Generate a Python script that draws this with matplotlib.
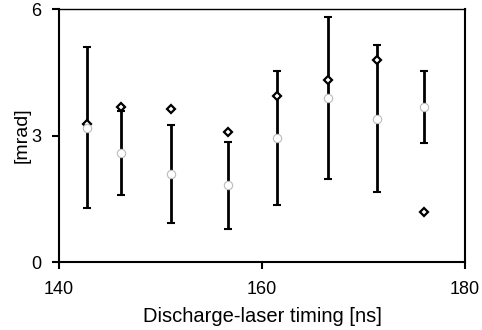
import numpy as np
import matplotlib.pyplot as plt

plt.rcParams['font.family'] = ['Liberation Sans', 'DejaVu Sans']

# discharge-laser timing [ns]
timing = [142.8, 146.1, 151.0, 156.7, 161.5, 166.5, 171.3, 176.0]
# mean value with error bar (open markers)
mean_val = [3.18, 2.58, 2.09, 1.82, 2.94, 3.88, 3.40, 3.68]
err_val = [1.91, 0.99, 1.16, 1.03, 1.58, 1.92, 1.74, 0.85]
# second series (diamonds)
diamond_val = [3.27, 3.68, 3.64, 3.09, 3.94, 4.31, 4.79, 1.18]

fig = plt.figure(figsize=(4.82, 3.30), dpi=100)
ax = fig.add_axes([0.1224, 0.206, 0.8423, 0.7667])

ax.errorbar(timing, mean_val, yerr=err_val, fmt='none', ecolor='black',
            elinewidth=2.0, capsize=3, capthick=1.5, zorder=2)
ax.plot(timing, diamond_val, linestyle='none', marker='D', markersize=4.5,
        markerfacecolor='white', markeredgecolor='black', markeredgewidth=1.6,
        zorder=3)
ax.plot(timing, mean_val, linestyle='none', marker='o', markersize=6,
        markerfacecolor='white', markeredgecolor='#bbbbbb', markeredgewidth=0.8,
        zorder=4)

ax.set_xlim(140, 180)
ax.set_ylim(0, 6)
ax.set_xticks([140, 160, 180])
ax.set_yticks([0, 3, 6])
ax.tick_params(direction='out', length=5, width=1.5, labelsize=13)
ax.tick_params(axis='x', pad=9)
ax.tick_params(axis='y', pad=8)
for s in ax.spines.values():
    s.set_linewidth(1.5)
ax.spines['top'].set_linewidth(1.0)

ax.set_xlabel('Discharge-laser timing [ns]', fontsize=14.5, labelpad=6)
ax.set_ylabel('[mrad]', fontsize=14, labelpad=0)

fig.savefig('out.png', dpi=100)
